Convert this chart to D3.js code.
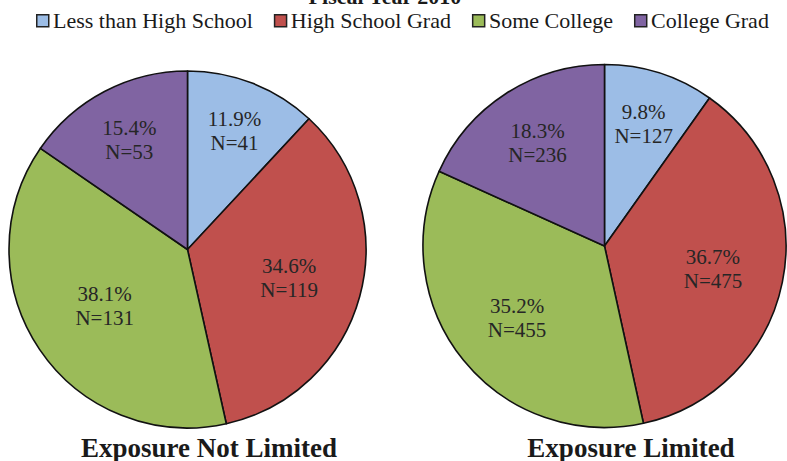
<!DOCTYPE html>
<html>
<head>
<meta charset="utf-8">
<script src="https://cdn.jsdelivr.net/npm/d3@7/dist/d3.min.js"></script>
<style>
  html, body { margin: 0; padding: 0; background: #ffffff; }
  svg { display: block; }
</style>
</head>
<body>
<svg id="chart" width="787" height="461"></svg>
<script>
// ---- data ----
const title = "Fiscal Year 2010";
const categories = ["Less than High School", "High School Grad", "Some College", "College Grad"];
const colors = ["#9cbde6", "#c0504d", "#9bbb59", "#8064a2"];
const pieTitles = ["Exposure Not Limited", "Exposure Limited"];
const notLimitedN = [41, 119, 131, 53];
const notLimitedPct = ["11.9%", "34.6%", "38.1%", "15.4%"];
const limitedN = [127, 475, 455, 236];
const limitedPct = ["9.8%", "36.7%", "35.2%", "18.3%"];

// ---- layout ----
const svg = d3.select("#chart");
const font = "'Liberation Serif', 'Times New Roman', Times, serif";
const labelRadiusFrac = [[0.72, 0.59, 0.56, 0.70], [0.71, 0.61, 0.62, 0.68]];
const pies = [
  { cx: 187.5, cy: 249.5, r: 178.5, n: notLimitedN, pct: notLimitedPct, titleX: 209 },
  { cx: 604.5, cy: 246, r: 181.5, n: limitedN, pct: limitedPct, titleX: 631 }
];

// title (partially clipped at top, as in the reference)
svg.append("text")
  .attr("x", 385).attr("y", 4)
  .attr("text-anchor", "middle")
  .attr("font-family", font).attr("font-weight", "bold")
  .attr("font-size", 22).attr("fill", "#1a1a1a")
  .text(title);

// legend
const legend = svg.append("g");
let lx = 36;
categories.forEach((c, i) => {
  const g = legend.append("g");
  g.append("rect")
    .attr("x", lx + 0.75).attr("y", 14.75)
    .attr("width", 12).attr("height", 12)
    .attr("fill", colors[i]).attr("stroke", "#222").attr("stroke-width", 1.5);
  const t = g.append("text")
    .attr("x", lx + 17).attr("y", 27.5)
    .attr("font-family", font).attr("font-size", 22).attr("fill", "#1a1a1a")
    .text(c);
  lx = lx + 17 + t.node().getComputedTextLength() + 21;
});

const pieGen = d3.pie().sort(null).value(d => d);

pies.forEach((p, pi) => {
  const arc = d3.arc().innerRadius(0).outerRadius(p.r);
  const g = svg.append("g").attr("transform", `translate(${p.cx},${p.cy})`);
  const arcs = pieGen(p.n);
  g.selectAll("path.slice").data(arcs).enter().append("path")
    .attr("class", "slice")
    .attr("d", arc)
    .attr("fill", (d, i) => colors[i])
    .attr("stroke", "#111").attr("stroke-width", 1.6)
    .attr("stroke-linejoin", "round");

  arcs.forEach((d, i) => {
    const a = (d.startAngle + d.endAngle) / 2;
    const rr = p.r * labelRadiusFrac[pi][i];
    const x = Math.sin(a) * rr;
    const y = -Math.cos(a) * rr;
    const t = g.append("text")
      .attr("text-anchor", "middle")
      .attr("font-family", font).attr("font-size", 21).attr("fill", "#262626");
    t.append("tspan").attr("x", x).attr("y", y - 4).text(p.pct[i]);
    t.append("tspan").attr("x", x).attr("y", y + 20).text("N=" + p.n[i]);
  });

  svg.append("text")
    .attr("x", p.titleX).attr("y", 457)
    .attr("text-anchor", "middle")
    .attr("font-family", font).attr("font-weight", "bold")
    .attr("font-size", 27).attr("fill", "#1a1a1a")
    .text(pieTitles[pi]);
});
</script>
</body>
</html>
